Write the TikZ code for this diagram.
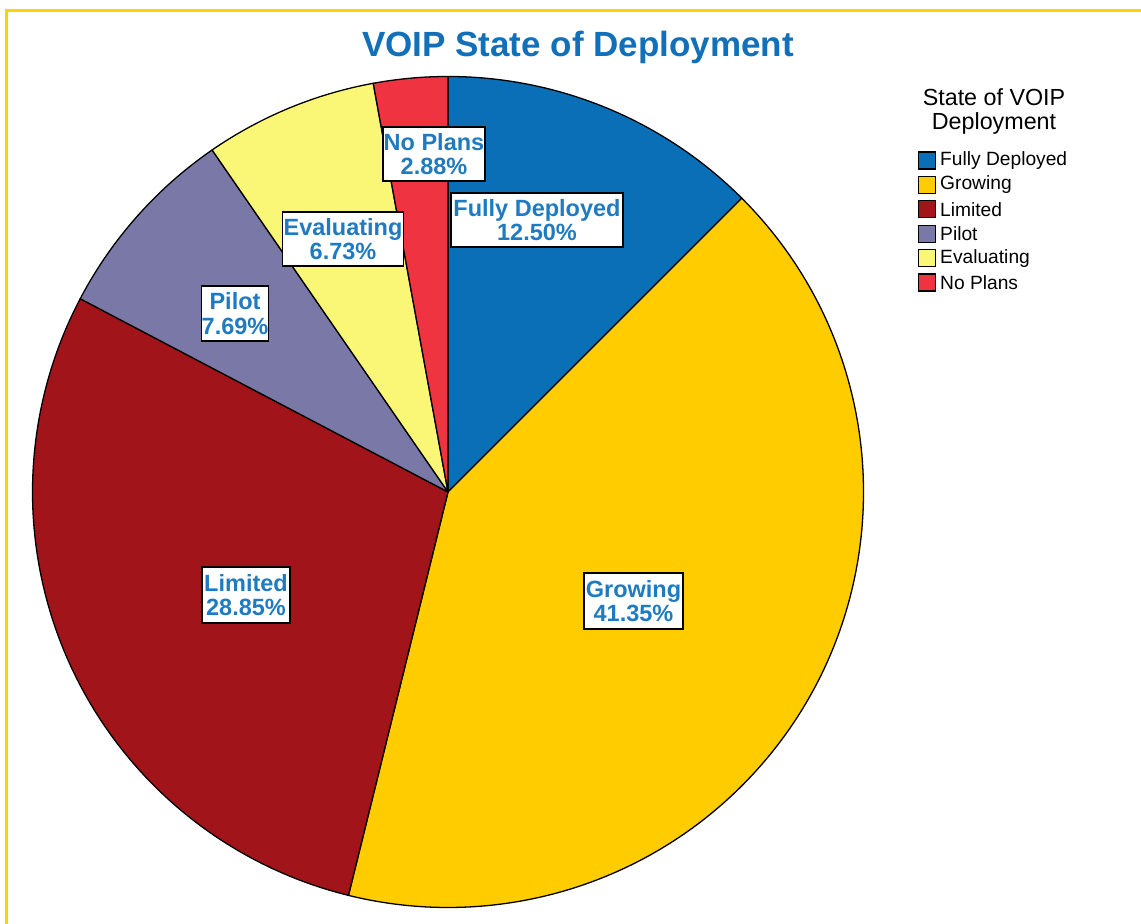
\documentclass[tikz,border=0pt]{standalone}
\usepackage{fontspec}
\setmainfont{Liberation Sans}
\definecolor{cfd}{HTML}{0B6FB8}
\definecolor{cgr}{HTML}{FFCC00}
\definecolor{cli}{HTML}{A0141A}
\definecolor{cpi}{HTML}{7A78A6}
\definecolor{cev}{HTML}{FBF776}
\definecolor{cnp}{HTML}{EF3340}
\definecolor{clab}{HTML}{1F7BC1}
\definecolor{cframe}{HTML}{FFD200}
\definecolor{ctitle}{HTML}{1170B8}
\begin{document}
\begin{tikzpicture}[x=1pt,y=1pt,
  slice/.style={draw=black,line width=1.3pt,line join=round},
  lab/.style={draw=black,fill=white,line width=1.4pt,inner sep=0pt,align=center,
    text=clab,font=\fontsize{23.5}{24.5}\selectfont\bfseries},
  swatch/.style={draw=black,line width=1.2pt,minimum width=17pt,minimum height=17pt,inner sep=0pt},
  legtext/.style={anchor=west,inner sep=0pt,font=\fontsize{19.2}{20}\selectfont}]
\useasboundingbox (0,0) rectangle (1141,924);
% frame
\draw[cframe,line width=3pt] (6.5,0) -- (6.5,913) -- (1141,913);
% pie
\coordinate (C) at (448,432);
\def\R{415.5}
\filldraw[slice,fill=cfd] (C) -- ++(90:\R) arc[start angle=90,end angle=45,radius=\R] -- cycle;
\filldraw[slice,fill=cgr] (C) -- ++(45:\R) arc[start angle=45,end angle=-103.86,radius=\R] -- cycle;
\filldraw[slice,fill=cli] (C) -- ++(-103.86:\R) arc[start angle=-103.86,end angle=-207.72,radius=\R] -- cycle;
\filldraw[slice,fill=cpi] (C) -- ++(-207.72:\R) arc[start angle=-207.72,end angle=-235.404,radius=\R] -- cycle;
\filldraw[slice,fill=cev] (C) -- ++(-235.404:\R) arc[start angle=-235.404,end angle=-259.632,radius=\R] -- cycle;
\filldraw[slice,fill=cnp] (C) -- ++(-259.632:\R) arc[start angle=-259.632,end angle=-270,radius=\R] -- cycle;
% labels
\node[lab,minimum width=102pt,minimum height=54pt] (lnp) at (434,770) {No Plans\\2.88\%};
\node[lab,minimum width=172pt,minimum height=54pt] (lfd) at (537,704) {Fully Deployed\\12.50\%};
\node[lab,minimum width=121pt,minimum height=54pt] (lev) at (343,685) {Evaluating\\6.73\%};
\node[lab,minimum width=65pt,minimum height=55pt] (lpi) at (235,610.5) {Pilot\\7.69\%};
\node[lab,minimum width=88pt,minimum height=56pt] (lli) at (246,329) {Limited\\28.85\%};
\node[lab,minimum width=99pt,minimum height=56pt] (lgr) at (633.5,323) {Growing\\41.35\%};
% title
\node[text=ctitle,font=\fontsize{35}{40}\selectfont\bfseries] (title) at (578,877) {VOIP State of Deployment};
% legend
\node[align=center,font=\fontsize{23.3}{23.5}\selectfont] (legtitle) at (994,812.5) {State of VOIP\\Deployment};
\node[swatch,fill=cfd] (s1) at (927,763.5) {};
\node[swatch,fill=cgr] (s2) at (927,739.1) {};
\node[swatch,fill=cli] (s3) at (927,714.7) {};
\node[swatch,fill=cpi] (s4) at (927,690.3) {};
\node[swatch,fill=cev] (s5) at (927,665.9) {};
\node[swatch,fill=cnp] (s6) at (927,641.5) {};
\node[legtext] (t1) at (940,763.5) {Fully Deployed};
\node[legtext] (t2) at (940,739.1) {Growing};
\node[legtext] (t3) at (940,714.7) {Limited};
\node[legtext] (t4) at (940,690.3) {Pilot};
\node[legtext] (t5) at (940,665.9) {Evaluating};
\node[legtext] (t6) at (940,641.5) {No Plans};
\end{tikzpicture}
\end{document}
